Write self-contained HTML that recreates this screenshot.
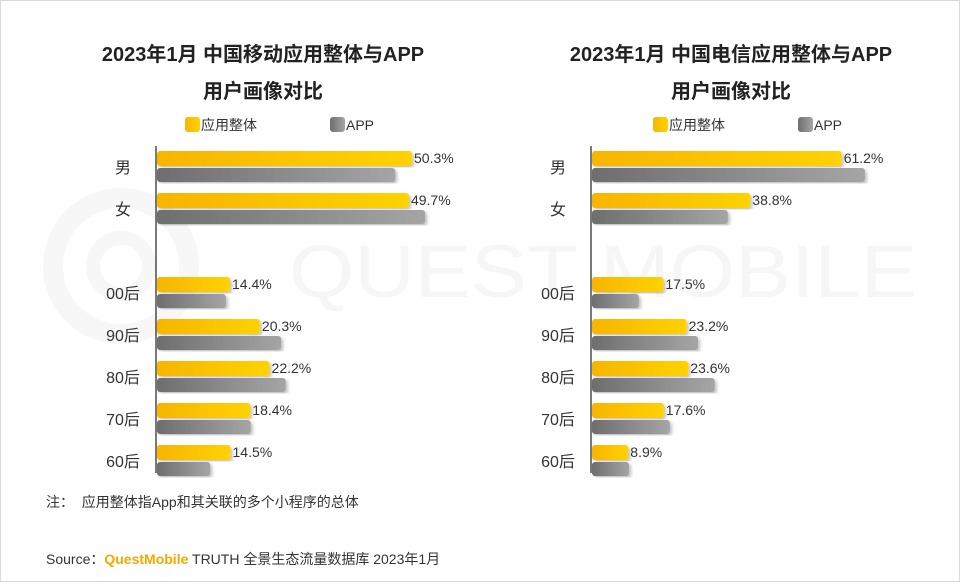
<!DOCTYPE html>
<html><head><meta charset="utf-8"><style>
body{margin:0;background:#fff;}
#wrap{position:relative;width:958px;height:580px;border:1px solid #d9d9d9;overflow:hidden;font-family:"Liberation Sans","Noto Sans CJK SC",sans-serif;}
svg text{font-family:"Liberation Sans","Noto Sans CJK SC",sans-serif;}
</style></head><body>
<div id="wrap">
<svg id="s" width="958" height="580">
<defs>
<linearGradient id="gy" x1="0" x2="1"><stop offset="0" stop-color="#f7b500"/><stop offset="1" stop-color="#ffd200"/></linearGradient>
<linearGradient id="gg" x1="0" x2="1"><stop offset="0" stop-color="#6e6e6e"/><stop offset="1" stop-color="#a5a5a5"/></linearGradient>
<filter id="sh"><feDropShadow dx="2" dy="2" stdDeviation="1.5" flood-color="#000" flood-opacity="0.25"/></filter>
</defs>
<g>
<circle cx="120" cy="265" r="68" fill="none" stroke="#f7f7f7" stroke-width="20"/>
<circle cx="120" cy="265" r="28" fill="none" stroke="#f7f7f7" stroke-width="14"/>
<text x="288" y="296" font-size="74" fill="#f6f6f6" textLength="628" lengthAdjust="spacingAndGlyphs">QUEST MOBILE</text>
</g>
<g id="charts"></g>
<text x="45" y="506" font-size="14" fill="#333">注：&#160;&#160;应用整体指App和其关联的多个小程序的总体</text>
<text x="45" y="563" font-size="14" fill="#333">Source：<tspan fill="#f5a800" font-weight="bold">QuestMobile</tspan> TRUTH 全景生态流量数据库 2023年1月</text>
</svg>
</div>
<script>
const categories=["男","女","00后","90后","80后","70后","60后"];
const leftTitle=["2023年1月 中国移动应用整体与APP","用户画像对比"];
const leftOverall=[50.3,49.7,14.4,20.3,22.2,18.4,14.5];
const leftApp=[47.0,52.9,13.6,24.5,25.4,18.5,10.5];
const rightTitle=["2023年1月 中国电信应用整体与APP","用户画像对比"];
const rightOverall=[61.2,38.8,17.5,23.2,23.6,17.6,8.9];
const rightApp=[66.9,33.3,11.5,26.0,30.1,19.1,9.1];
const legendLabels=["应用整体","APP"];
const NS="http://www.w3.org/2000/svg";
const root=document.getElementById('charts');
function mk(tag,attrs,parent){const e=document.createElementNS(NS,tag);for(const k in attrs)e.setAttribute(k,attrs[k]);parent.appendChild(e);return e;}
function yCenter(i){return 158+i*42+(i>=2?42:0);}
function drawChart(ox,cx,pxPer,title,overall,app,prefix){
  const g=mk('g',{},root);
  
  
  title.forEach((t,i)=>{const e=mk('text',{x:cx,y:60+i*37,'font-size':20,'font-weight':'bold','text-anchor':'middle',fill:'#222'},g);e.textContent=t;
    
    });
  const lx=[cx-78,cx+67];
  legendLabels.forEach((l,i)=>{
    const r=mk('rect',{x:lx[i],y:116,width:15,height:15,rx:3,fill:i?'url(#gg)':'url(#gy)'},g);
    
    
    const t=mk('text',{x:lx[i]+16,y:129,'font-size':14,fill:'#333'},g);t.textContent=l;
    
    
  });
  const ax=mk('line',{x1:ox,x2:ox,y1:145,y2:472,stroke:'#222','stroke-width':1.2},g);
  
  
  categories.forEach((c,i)=>{
    const yc=yCenter(i);
    const t=mk('text',{x:ox-33,y:yc+14,'font-size':16,fill:'#333','text-anchor':'middle'},g);t.textContent=c;
    
    
    const b1=mk('rect',{x:ox+1,y:yc-8,width:overall[i]*pxPer,height:15,rx:3,fill:'url(#gy)',filter:'url(#sh)'},g);
    
    
    const b2=mk('rect',{x:ox+1,y:yc+9,width:app[i]*pxPer,height:14,rx:3,fill:'url(#gg)',filter:'url(#sh)'},g);
    
    
    const v=mk('text',{x:ox+overall[i]*pxPer+3,y:yc+4,'font-size':14,fill:'#333'},g);v.textContent=overall[i].toFixed(1)+'%';
    
    
  });
}
drawChart(155,262,5.07,leftTitle,leftOverall,leftApp,'mobile');
drawChart(590,730,4.08,rightTitle,rightOverall,rightApp,'telecom');
</script>
</body></html>
